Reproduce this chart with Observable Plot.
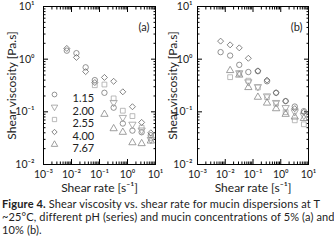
<!DOCTYPE html>
<html><head><meta charset="utf-8">
<script src="https://cdn.jsdelivr.net/npm/d3@7"></script>
<script src="https://cdn.jsdelivr.net/npm/@observablehq/plot@0.6"></script>
<style>
body{margin:0;background:#fff;font-family:Lato,"Open Sans",sans-serif;}
#wrap{position:relative;width:334px;height:249px;overflow:hidden}
#pa{position:absolute;left:0;top:0}
#pb{position:absolute;left:165px;top:0}
#cap{position:absolute;left:2px;top:197px;width:332px;font-size:11px;letter-spacing:0.14px;line-height:13px;color:#222;white-space:nowrap}
svg text{fill:#222}
</style></head><body>
<div id="wrap"><div id="pa"></div><div id="pb"></div>
<div id="cap"><b>Figure 4.</b> Shear viscosity vs. shear rate for mucin dispersions at T<br>~25°C, different pH (series) and mucin concentrations of 5% (a) and<br>10% (b).</div></div>
<script>
// shared shear rate grid [1/s]
const shearRate = [0.0068, 0.015, 0.032, 0.068, 0.15, 0.32, 0.68, 1.5, 3.2, 6.8];
const pHLabels = ["1.15", "2.00", "2.55", "4.00", "7.67"];
// panel (a): 5% mucin, viscosity [Pa.s]
const a_pH115 = [1.45, 1.3, 0.70, 0.40, 0.23, 0.12, 0.06, 0.044, 0.041, 0.036];
const a_pH200 = [null, null, null, null, null, 0.15, 0.078, 0.058, 0.045, 0.030];
const a_pH255 = [null, null, null, 0.32, 0.33, 0.18, 0.105, 0.083, 0.05, 0.032];
const a_pH400 = [1.6, 1.08, 0.58, 0.36, 0.45, 0.38, 0.24, 0.125, 0.063, 0.04];
const a_pH767 = [null, null, null, null, 0.09, 0.048, 0.041, 0.026, 0.025, 0.028];
// panel (b): 10% mucin
const b_pH115 = [1.36, 1.17, 0.78, 0.57, 0.59, 0.38, 0.23, 0.16, 0.126, 0.103];
const b_pH200 = [null, null, 0.55, 0.37, 0.30, 0.20, 0.15, 0.12, 0.10, 0.085];
const b_pH255 = [null, 0.455, 0.53, 0.39, 0.29, 0.19, 0.143, 0.099, 0.069, 0.058];
const b_pH400 = [2.2, 1.87, 1.64, 1.04, 0.60, 0.40, 0.23, 0.16, 0.115, 0.098];
const b_pH767 = [null, 0.61, 0.50, 0.29, 0.19, 0.147, 0.115, 0.09, 0.08, 0.075];
// tick values
const xMajor = [1e-3, 1e-2, 1e-1, 1, 10];
const yMajor = [1e-2, 1e-1, 1, 10];

const symbols = ["circle", "triangle", "square", "diamond2", "triangle"];
const rotates = [0, 180, 0, 0, 0];
const colors = ["#777", "#999", "#aaa", "#666", "#888"];

function minors(majors) {
  const out = [];
  for (let i = 0; i < majors.length - 1; i++) for (let m = 2; m <= 9; m++) out.push(m * majors[i]);
  return out;
}
const sup = {"-": "⁻", "0": "⁰", "1": "¹", "2": "²", "3": "³"};
const fmt = d => "10" + String(Math.round(Math.log10(d))).replace(/./g, c => sup[c]);

function panel(series, tag, opts) {
  const marks = [];
  const xm = minors(xMajor), ym = minors(yMajor);
  for (const a of ["bottom", "top"]) {
    marks.push(Plot.axisX({anchor: a, ticks: xMajor, tickSize: -5, text: null, label: null, stroke: "#000"}));
    marks.push(Plot.axisX({anchor: a, ticks: xm, tickSize: -2.5, text: null, label: null, stroke: "#000"}));
  }
  for (const a of ["left", "right"]) {
    marks.push(Plot.axisY({anchor: a, ticks: yMajor, tickSize: -5, text: null, label: null, stroke: "#000"}));
    marks.push(Plot.axisY({anchor: a, ticks: ym, tickSize: -2.5, text: null, label: null, stroke: "#000"}));
  }
  // tick labels
  marks.push(Plot.axisX({anchor: "bottom", ticks: xMajor, tickSize: 0, tickPadding: 6, tickFormat: fmt, fontSize: 10.5, label: null}));
  marks.push(Plot.axisY({anchor: "left", ticks: yMajor, tickSize: 0, tickPadding: opts.pad, tickFormat: fmt, fontSize: 10.5, label: null}));
  // axis titles
  marks.push(Plot.axisX({anchor: "bottom", ticks: [], tickSize: 0, fontSize: 12,
    label: "Shear rate [s⁻¹]", labelAnchor: "center", labelArrow: "none", labelOffset: 27}));
  marks.push(Plot.axisY({anchor: "left", ticks: [], tickSize: 0, fontSize: 12,
    label: "Shear viscosity [Pa.s]", labelAnchor: "center", labelArrow: "none", labelOffset: opts.labelOffset}));
  marks.push(Plot.frame({stroke: "#000", strokeWidth: 1}));
  series.forEach((vals, i) => {
    const rows = shearRate.map((x, j) => ({x, y: vals[j]})).filter(d => d.y != null);
    marks.push(Plot.dot(rows, {x: "x", y: "y", symbol: symbols[i], rotate: rotates[i], stroke: colors[i], fill: "none", r: 2.7, strokeWidth: 0.8}));
  });
  marks.push(Plot.text([tag], {text: d => d, frameAnchor: "top-right", dx: -6, dy: 17, textAnchor: "end", fontSize: 11}));
  if (opts.legend) {
    pHLabels.forEach((lab, i) => {
      marks.push(Plot.dot([lab], {frameAnchor: "top-left", dx: 11, dy: 88 + 12.5 * i, symbol: symbols[i], rotate: rotates[i], stroke: colors[i], fill: "none", r: 2.4, strokeWidth: 0.8}));
      marks.push(Plot.text([lab], {text: d => d, frameAnchor: "top-left", dx: 29, dy: 88 + 12.5 * i, textAnchor: "start", fontSize: 11}));
    });
  }
  return Plot.plot({
    width: opts.width, height: 195,
    marginLeft: opts.mL, marginRight: opts.mR, marginTop: 6, marginBottom: 31,
    style: {fontFamily: "Lato, sans-serif", fontSize: "11px", background: "transparent", overflow: "visible"},
    x: {type: "log", domain: [1e-3, 10], axis: null},
    y: {type: "log", domain: [1e-2, 10], axis: null},
    marks
  });
}

document.getElementById("pa").append(panel([a_pH115, a_pH200, a_pH255, a_pH400, a_pH767], "(a)",
  {width: 165, mL: 43, mR: 10, pad: 9, labelOffset: 36, legend: true}));
document.getElementById("pb").append(panel([b_pH115, b_pH200, b_pH255, b_pH400, b_pH767], "(b)",
  {width: 169, mL: 32, mR: 26, pad: 5, labelOffset: 29, legend: false}));
</script>
</body></html>
